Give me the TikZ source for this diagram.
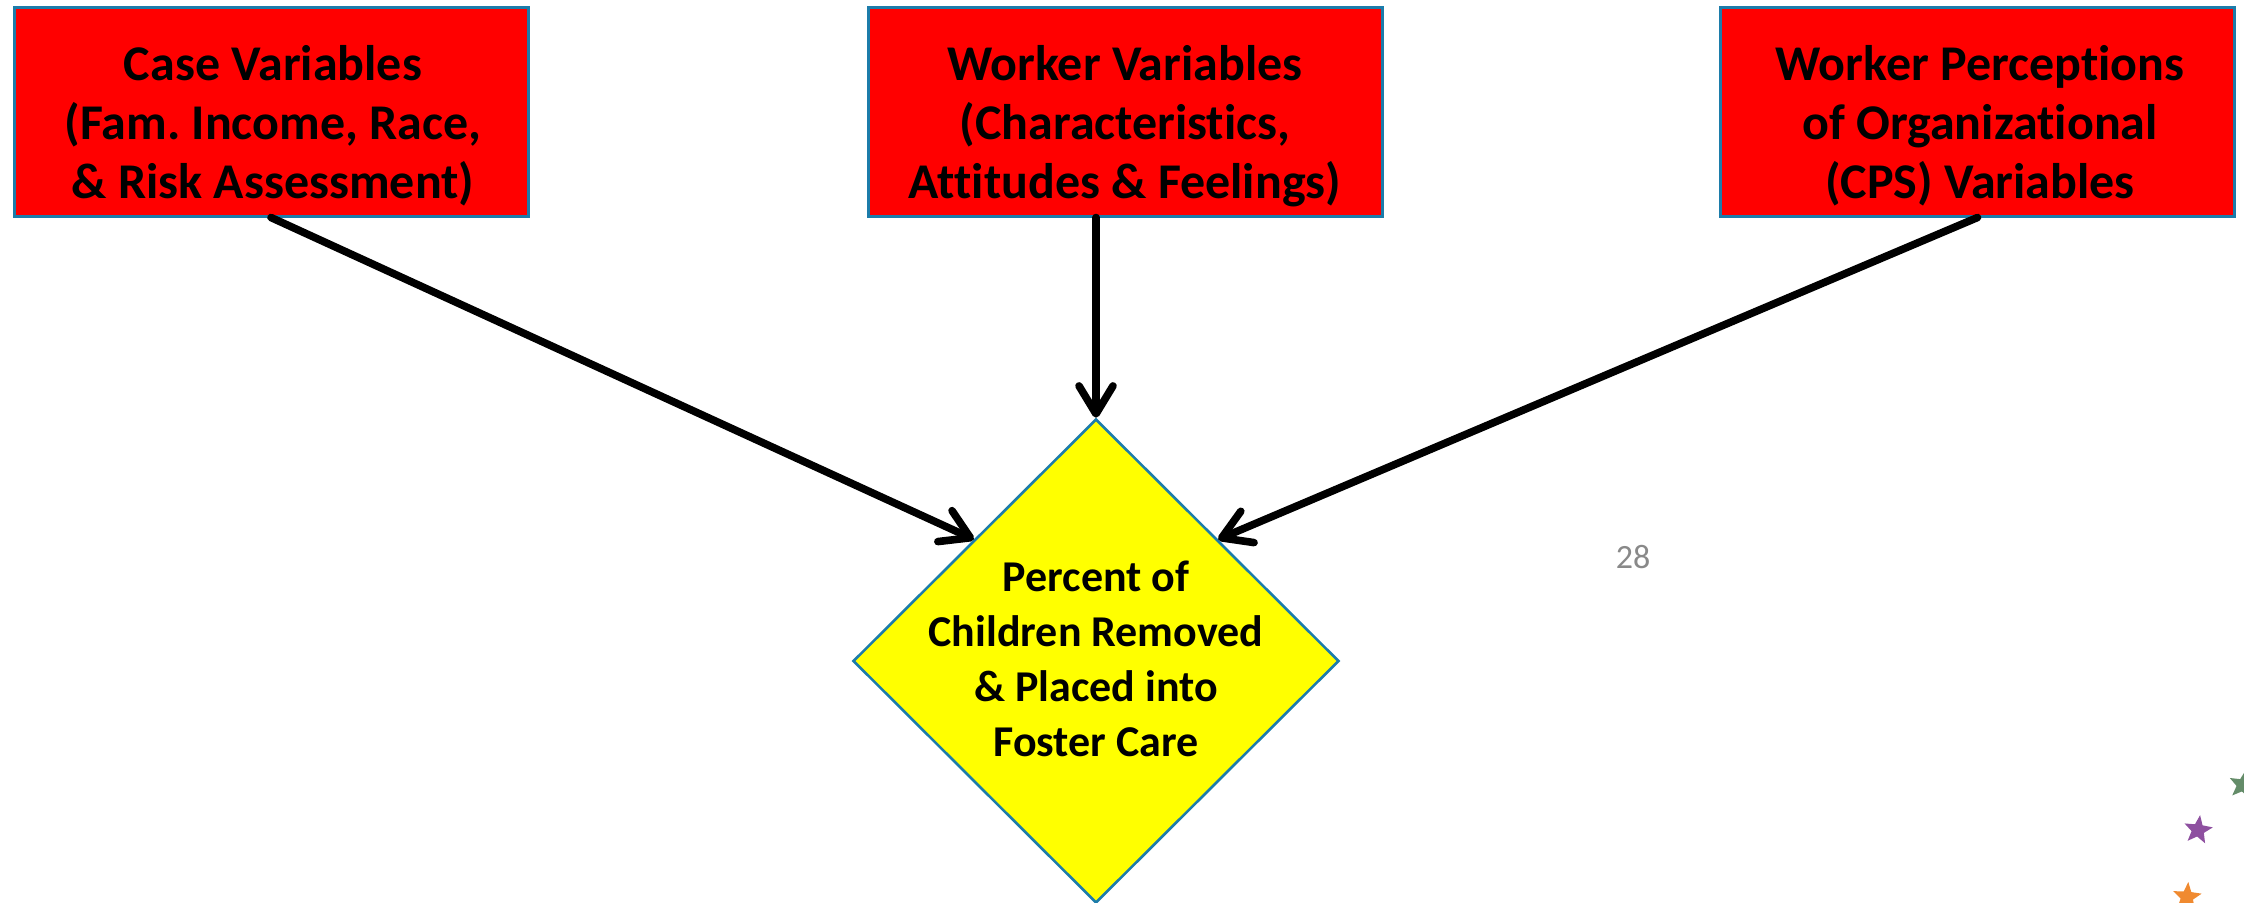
\documentclass[tikz,border=0pt]{standalone}
\usepackage{fontspec}
\setmainfont[Ligatures=NoCommon]{Carlito}
\usetikzlibrary{shapes.geometric,arrows.meta,calc}
\definecolor{edgeblue}{RGB}{28,124,170}
\definecolor{boxred}{RGB}{255,0,0}
\definecolor{diayellow}{RGB}{255,255,0}
\definecolor{numgray}{RGB}{137,137,137}
\definecolor{starpurple}{RGB}{142,80,160}
\definecolor{stargreen}{RGB}{100,140,105}
\definecolor{starorange}{RGB}{240,138,48}
\tikzset{
  redbox/.style={draw=edgeblue, line width=1.5pt, fill=boxred, minimum width=257pt, minimum height=104.5pt, inner sep=0pt},
  boxtext/.style={align=center, font=\fontsize{25}{29.5}\selectfont\bfseries, inner sep=0pt},
  outbox/.style={shape=diamond, draw=edgeblue, line width=1.3pt, fill=diayellow, minimum width=243pt, minimum height=242pt, inner sep=0pt},
  outtext/.style={align=center, font=\fontsize{22}{27.5}\selectfont\bfseries, inner sep=0pt},
  link/.style={line width=3.8pt, line cap=round, -{Straight Barb[length=14pt,width=17pt,round]}},
  deco/.style={shape=star, star points=5, star point ratio=2.3, inner sep=0pt, minimum size=15pt, draw=none}
}
\frenchspacing
\begin{document}
\begin{tikzpicture}[x=0.5pt,y=-0.5pt]
\useasboundingbox (0,0) rectangle (2244,902);
\node[redbox] (box1) at (271,111.5) {};
\node[redbox] (box2) at (1125,111.5) {};
\node[redbox] (box3) at (1977.5,111.5) {};
\node[boxtext] (box1t) at (273,126) {Case Variables\\(Fam.\ Income, Race,\\\& Risk Assessment)};
\node[boxtext] (box2t) at (1125,126) {Worker Variables\\(Characteristics,\\Attitudes \& Feelings)};
\node[boxtext] (box3t) at (1980,126) {Worker Perceptions\\of Organizational\\(CPS) Variables};
\node[outbox] (out) at (1096,661) {};
\node[outtext] (outt) at (1096,659) {Percent of\\Children Removed\\\& Placed into\\Foster Care};
\coordinate (in1) at ($(out.west)!0.5!(out.north)$);
\coordinate (in3) at ($(out.east)!0.5!(out.north)$);
\coordinate (s2) at (out.north |- box2.south);
\draw[link] (box1.south) -- (in1);
\draw[link] (s2) -- (out.north);
\draw[link] (box3.south) -- (in3);
\node[text=numgray, font=\fontsize{17}{20}\selectfont, inner sep=0pt] (pnum) at (1633,557) {28};
\node[deco, fill=stargreen, rotate=-10] (st1) at (2243,785) {};
\node[deco, fill=starpurple, rotate=-8] (st2) at (2198,830) {};
\node[deco, fill=starorange, rotate=-5] (st3) at (2187,897) {};
\end{tikzpicture}
\end{document}
